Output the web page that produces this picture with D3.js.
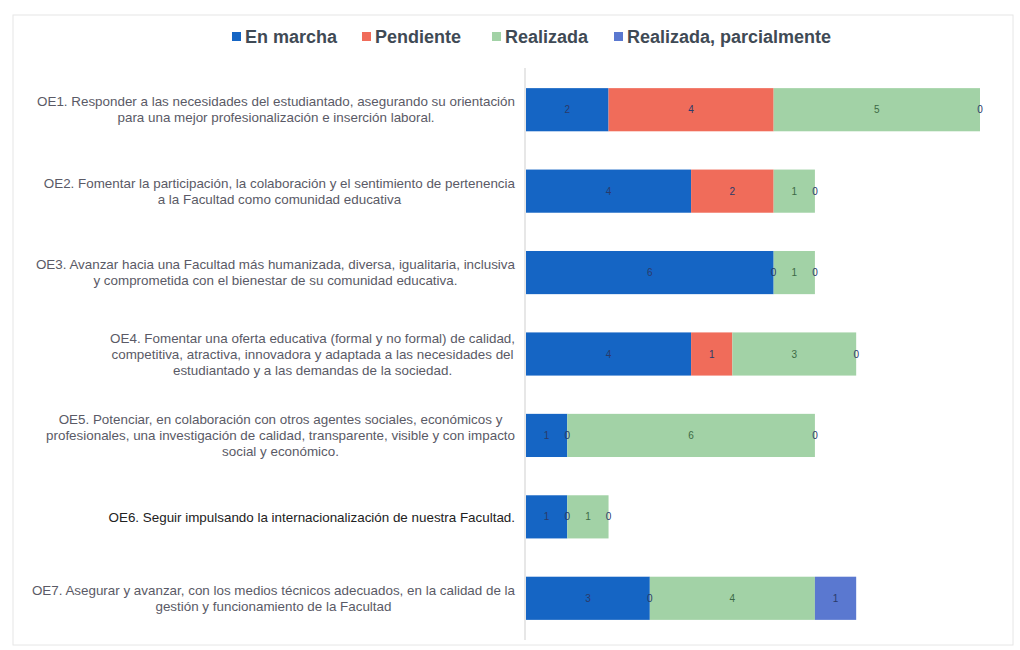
<!DOCTYPE html>
<html>
<head>
<meta charset="utf-8">
<script src="https://cdn.jsdelivr.net/npm/d3@7/dist/d3.min.js"></script>
<style>
  body { margin: 0; background: #fff; }
  svg { display: block; }
</style>
</head>
<body>
<svg id="chart" width="1020" height="650"></svg>
<script>
const categories = [
  "OE1. Responder a las necesidades del estudiantado, asegurando su orientación|para una mejor profesionalización e inserción laboral.",
  "OE2. Fomentar la participación, la colaboración y el sentimiento de pertenencia|a la Facultad como comunidad educativa",
  "OE3. Avanzar hacia una Facultad más humanizada, diversa, igualitaria, inclusiva|y comprometida con el bienestar de su comunidad educativa.",
  "OE4. Fomentar una oferta educativa (formal y no formal) de calidad,|competitiva, atractiva, innovadora y adaptada a las necesidades del|estudiantado y a las demandas de la sociedad.",
  "OE5. Potenciar, en colaboración con otros agentes sociales, económicos y|profesionales, una investigación de calidad, transparente, visible y con impacto|social y económico.",
  "OE6. Seguir impulsando la internacionalización de nuestra Facultad.",
  "OE7. Asegurar y avanzar, con los medios técnicos adecuados, en la calidad de la|gestión y funcionamiento de la Facultad"
];
const seriesNames = ["En marcha", "Pendiente", "Realizada", "Realizada, parcialmente"];
const enMarcha   = [2, 4, 6, 4, 1, 1, 3];
const pendiente  = [4, 2, 0, 1, 0, 0, 0];
const realizada  = [5, 1, 1, 3, 6, 1, 4];
const parcial    = [0, 0, 0, 0, 0, 0, 1];
const colors = ["#1565c4", "#f06c5a", "#a2d2a6", "#5a78d0"];

const svg = d3.select("#chart");

// faint frame (scan border)
svg.append("rect").attr("x", 13).attr("y", 15).attr("width", 1000).attr("height", 630)
  .attr("fill", "none").attr("stroke", "#e6e6e6").attr("stroke-width", 1);

const rows = categories.map((c, i) => ({
  cat: c, "En marcha": enMarcha[i], "Pendiente": pendiente[i],
  "Realizada": realizada[i], "Realizada, parcialmente": parcial[i]
}));
const stack = d3.stack().keys(seriesNames)(rows);

const x = d3.scaleLinear().domain([0, 11]).range([526, 980]);
const y = d3.scaleBand().domain(categories).range([69, 639]).paddingInner(0.47).paddingOuter(0.235);
const color = d3.scaleOrdinal().domain(seriesNames).range(colors);

// axis line
svg.append("line").attr("x1", x(0) - 1).attr("x2", x(0) - 1).attr("y1", 68).attr("y2", 640)
  .attr("stroke", "#cfcfcf").attr("stroke-width", 1);

// bars
const g = svg.append("g");
stack.forEach(s => {
  g.selectAll(null).data(s).enter().append("rect")
    .attr("x", d => x(d[0]))
    .attr("y", d => y(d.data.cat))
    .attr("width", d => x(d[1]) - x(d[0]))
    .attr("height", y.bandwidth())
    .attr("fill", color(s.key));
});

// value labels
stack.forEach(s => {
  g.selectAll(null).data(s).enter().append("text")
    .attr("x", d => (x(d[0]) + x(d[1])) / 2)
    .attr("y", d => y(d.data.cat) + y.bandwidth() / 2)
    .attr("dy", "0.35em")
    .attr("text-anchor", "middle")
    .attr("font-family", "'Liberation Sans', sans-serif")
    .attr("font-size", 10)
    .attr("fill", s.key === "Realizada" ? "#3d6a45" : "#2a3a6a")
    .text(d => d[1] - d[0]);
});

// category labels: centered lines, block right-aligned
const labelRight = 515;
const lineH = 16;
categories.forEach((c, i) => {
  const lines = c.split("|");
  const t = svg.append("text")
    .attr("font-family", "'Liberation Sans', sans-serif")
    .attr("font-size", 13.4)
    .attr("fill", i === 5 ? "#222" : "#5a5a66")
    .attr("text-anchor", "middle");
  const cy = y(c) + y.bandwidth() / 2;
  const top = cy - (lines.length - 1) * lineH / 2;
  const spans = lines.map((l, k) => t.append("tspan").attr("y", top + k * lineH).attr("dy", "0.35em").text(l));
  let maxW = 0;
  spans.forEach(sp => { maxW = Math.max(maxW, sp.node().getComputedTextLength()); });
  spans.forEach(sp => sp.attr("x", labelRight - maxW / 2));
});

// legend
const legendX = [232, 362, 492, 614];
const lg = svg.append("g");
seriesNames.forEach((n, i) => {
  lg.append("rect").attr("x", legendX[i]).attr("y", 32).attr("width", 9).attr("height", 9).attr("fill", colors[i]);
  lg.append("text").attr("x", legendX[i] + 13).attr("y", 37).attr("dy", "0.35em")
    .attr("font-family", "'Liberation Sans', sans-serif")
    .attr("font-size", 18).attr("font-weight", "bold").attr("fill", "#3f4a55")
    .text(n);
});
</script>
</body>
</html>
